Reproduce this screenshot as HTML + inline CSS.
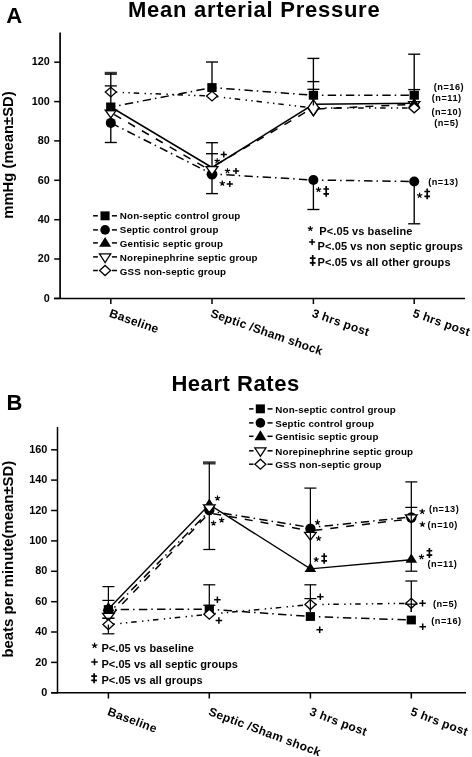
<!DOCTYPE html>
<html><head><meta charset="utf-8"><style>
html,body{margin:0;padding:0;background:#fff;}
body{width:472px;height:757px;overflow:hidden;}
svg{display:block;will-change:transform;}
text{fill:#000;}
</style></head><body>
<svg width="472" height="757" viewBox="0 0 472 757" font-family='"Liberation Sans", sans-serif' font-weight="bold">
<rect width="472" height="757" fill="#fff"/>
<text x="6.3" y="22.6" font-size="22" text-anchor="start">A</text>
<text x="127.9" y="17.4" font-size="22" text-anchor="start" letter-spacing="0.75">Mean arterial Pressure</text>
<text transform="translate(12.7,218.7) rotate(-90)" font-size="14.8">mmHg (mean±SD)</text>
<line x1="60.1" y1="32.5" x2="60.1" y2="299.1" stroke="#000" stroke-width="1.7" stroke-linecap="butt"/>
<line x1="54.0" y1="298.4" x2="465.0" y2="298.4" stroke="#000" stroke-width="1.5" stroke-linecap="butt"/>
<line x1="54.2" y1="298.4" x2="60.1" y2="298.4" stroke="#000" stroke-width="1.5" stroke-linecap="butt"/>
<text x="49.7" y="301.6" font-size="10.8" text-anchor="end">0</text>
<line x1="54.2" y1="259.0" x2="60.1" y2="259.0" stroke="#000" stroke-width="1.5" stroke-linecap="butt"/>
<text x="49.7" y="262.2" font-size="10.8" text-anchor="end">20</text>
<line x1="54.2" y1="219.7" x2="60.1" y2="219.7" stroke="#000" stroke-width="1.5" stroke-linecap="butt"/>
<text x="49.7" y="222.9" font-size="10.8" text-anchor="end">40</text>
<line x1="54.2" y1="180.3" x2="60.1" y2="180.3" stroke="#000" stroke-width="1.5" stroke-linecap="butt"/>
<text x="49.7" y="183.5" font-size="10.8" text-anchor="end">60</text>
<line x1="54.2" y1="140.9" x2="60.1" y2="140.9" stroke="#000" stroke-width="1.5" stroke-linecap="butt"/>
<text x="49.7" y="144.1" font-size="10.8" text-anchor="end">80</text>
<line x1="54.2" y1="101.6" x2="60.1" y2="101.6" stroke="#000" stroke-width="1.5" stroke-linecap="butt"/>
<text x="49.7" y="104.8" font-size="10.8" text-anchor="end">100</text>
<line x1="54.2" y1="62.2" x2="60.1" y2="62.2" stroke="#000" stroke-width="1.5" stroke-linecap="butt"/>
<text x="49.7" y="65.4" font-size="10.8" text-anchor="end">120</text>
<line x1="110.8" y1="298.4" x2="110.8" y2="304.0" stroke="#000" stroke-width="1.5" stroke-linecap="butt"/>
<line x1="212.0" y1="298.4" x2="212.0" y2="304.0" stroke="#000" stroke-width="1.5" stroke-linecap="butt"/>
<line x1="313.4" y1="298.4" x2="313.4" y2="304.0" stroke="#000" stroke-width="1.5" stroke-linecap="butt"/>
<line x1="414.2" y1="298.4" x2="414.2" y2="304.0" stroke="#000" stroke-width="1.5" stroke-linecap="butt"/>
<text transform="translate(108.6,316.4) rotate(19.3)" font-size="12" letter-spacing="0.25">Baseline</text>
<text transform="translate(209.8,316.4) rotate(19.3)" font-size="12" letter-spacing="0.25">Septic /Sham shock</text>
<text transform="translate(311.2,316.4) rotate(19.3)" font-size="12" letter-spacing="0.25">3 hrs post</text>
<text transform="translate(412.0,316.4) rotate(19.3)" font-size="12" letter-spacing="0.25">5 hrs post</text>
<line x1="104.7" y1="73.4" x2="116.9" y2="73.4" stroke="#333" stroke-width="3.2"/>
<line x1="110.8" y1="73.0" x2="110.8" y2="142.5" stroke="#000" stroke-width="1.35" stroke-linecap="butt"/>
<line x1="104.8" y1="85.9" x2="116.8" y2="85.9" stroke="#000" stroke-width="1.35" stroke-linecap="butt"/>
<line x1="104.8" y1="142.5" x2="116.8" y2="142.5" stroke="#000" stroke-width="1.35" stroke-linecap="butt"/>
<line x1="212.0" y1="62.0" x2="212.0" y2="100.0" stroke="#000" stroke-width="1.35" stroke-linecap="butt"/>
<line x1="206.0" y1="62.0" x2="218.0" y2="62.0" stroke="#000" stroke-width="1.35" stroke-linecap="butt"/>
<line x1="212.0" y1="142.7" x2="212.0" y2="193.6" stroke="#000" stroke-width="1.35" stroke-linecap="butt"/>
<line x1="206.0" y1="142.7" x2="218.0" y2="142.7" stroke="#000" stroke-width="1.35" stroke-linecap="butt"/>
<line x1="206.0" y1="153.7" x2="218.0" y2="153.7" stroke="#000" stroke-width="1.35" stroke-linecap="butt"/>
<line x1="206.0" y1="193.6" x2="218.0" y2="193.6" stroke="#000" stroke-width="1.35" stroke-linecap="butt"/>
<line x1="313.4" y1="58.4" x2="313.4" y2="100.0" stroke="#000" stroke-width="1.35" stroke-linecap="butt"/>
<line x1="307.4" y1="58.4" x2="319.4" y2="58.4" stroke="#000" stroke-width="1.35" stroke-linecap="butt"/>
<line x1="307.4" y1="81.6" x2="319.4" y2="81.6" stroke="#000" stroke-width="1.35" stroke-linecap="butt"/>
<line x1="307.4" y1="89.3" x2="319.4" y2="89.3" stroke="#000" stroke-width="1.35" stroke-linecap="butt"/>
<line x1="313.4" y1="180.0" x2="313.4" y2="209.5" stroke="#000" stroke-width="1.35" stroke-linecap="butt"/>
<line x1="307.4" y1="209.5" x2="319.4" y2="209.5" stroke="#000" stroke-width="1.35" stroke-linecap="butt"/>
<line x1="414.2" y1="54.2" x2="414.2" y2="100.0" stroke="#000" stroke-width="1.35" stroke-linecap="butt"/>
<line x1="408.2" y1="54.2" x2="420.2" y2="54.2" stroke="#000" stroke-width="1.35" stroke-linecap="butt"/>
<line x1="408.2" y1="89.6" x2="420.2" y2="89.6" stroke="#000" stroke-width="1.35" stroke-linecap="butt"/>
<line x1="414.2" y1="181.5" x2="414.2" y2="223.8" stroke="#000" stroke-width="1.35" stroke-linecap="butt"/>
<line x1="408.2" y1="223.8" x2="420.2" y2="223.8" stroke="#000" stroke-width="1.35" stroke-linecap="butt"/>
<line x1="110.8" y1="92.1" x2="212.0" y2="96.1" stroke="#000" stroke-width="1.5" stroke-dasharray="5.5 5.4 1.4 4.3 1.4 3.9" stroke-dashoffset="-1.0"/>
<line x1="212.0" y1="96.1" x2="313.4" y2="108.0" stroke="#000" stroke-width="1.5" stroke-dasharray="5.5 5.4 1.4 4.3 1.4 3.9" stroke-dashoffset="-1.0"/>
<line x1="313.4" y1="108.0" x2="414.2" y2="108.0" stroke="#000" stroke-width="1.5" stroke-dasharray="5.5 5.4 1.4 4.3 1.4 3.9" stroke-dashoffset="-1.0"/>
<line x1="110.8" y1="107.0" x2="212.0" y2="87.6" stroke="#000" stroke-width="1.5" stroke-dasharray="8.4 4 1.5 4.3" stroke-dashoffset="3.9"/>
<line x1="212.0" y1="87.6" x2="313.4" y2="95.3" stroke="#000" stroke-width="1.5" stroke-dasharray="8.4 4 1.5 4.3" stroke-dashoffset="3.9"/>
<line x1="313.4" y1="95.3" x2="414.2" y2="95.2" stroke="#000" stroke-width="1.5" stroke-dasharray="8.4 4 1.5 4.3" stroke-dashoffset="3.9"/>
<line x1="110.8" y1="122.9" x2="212.0" y2="174.0" stroke="#000" stroke-width="1.5" stroke-dasharray="8.4 4 1.5 4.3" stroke-dashoffset="-0.4"/>
<line x1="212.0" y1="174.0" x2="313.4" y2="180.0" stroke="#000" stroke-width="1.5" stroke-dasharray="8.4 4 1.5 4.3" stroke-dashoffset="3.9"/>
<line x1="313.4" y1="180.0" x2="414.2" y2="181.5" stroke="#000" stroke-width="1.5" stroke-dasharray="8.4 4 1.5 4.3" stroke-dashoffset="3.9"/>
<line x1="110.8" y1="112.7" x2="212.0" y2="171.3" stroke="#000" stroke-width="1.5" stroke-dasharray="8 8" stroke-dashoffset="-4.0"/>
<line x1="212.0" y1="167.2" x2="313.4" y2="107.6" stroke="#000" stroke-width="1.5" stroke-dasharray="8 8" stroke-dashoffset="-4.0"/>
<line x1="313.4" y1="109.2" x2="414.2" y2="104.2" stroke="#000" stroke-width="1.5" stroke-dasharray="8 8" stroke-dashoffset="-4.0"/>
<polyline points="110.8,107.0 212.0,167.5 313.4,104.3 414.2,103.3" fill="none" stroke="#000" stroke-width="1.5" stroke-linejoin="miter"/>
<circle cx="110.8" cy="122.9" r="5" fill="#000"/>
<circle cx="212.0" cy="174.2" r="5.4" fill="#000"/>
<circle cx="313.4" cy="180.0" r="5" fill="#000"/>
<circle cx="414.2" cy="181.5" r="5" fill="#000"/>
<polygon points="105.2,110.1 116.4,110.1 110.8,117.9" fill="#fff" stroke="#000" stroke-width="1.3" stroke-linejoin="miter"/>
<polygon points="206.1,166.7 217.9,166.7 212.0,174.9" fill="#fff" stroke="#000" stroke-width="1.3" stroke-linejoin="miter"/>
<polygon points="307.8,108.0 319.0,108.0 313.4,115.8" fill="#fff" stroke="#000" stroke-width="1.3" stroke-linejoin="miter"/>
<polygon points="408.6,101.6 419.8,101.6 414.2,109.4" fill="#fff" stroke="#000" stroke-width="1.3" stroke-linejoin="miter"/>
<polygon points="408.4,106.9 420.0,106.9 414.2,97.7" fill="#000"/>
<rect x="106.1" y="102.5" width="9.3" height="8.9" fill="#000"/>
<rect x="207.3" y="83.1" width="9.3" height="8.9" fill="#000"/>
<rect x="308.8" y="90.8" width="9.3" height="8.9" fill="#000"/>
<rect x="409.6" y="90.8" width="9.3" height="8.9" fill="#000"/>
<polygon points="105.3,92.1 110.8,87.3 116.3,92.1 110.8,96.9" fill="#fff" stroke="#000" stroke-width="1.3"/>
<polygon points="206.5,96.1 212.0,91.3 217.5,96.1 212.0,100.9" fill="#fff" stroke="#000" stroke-width="1.3"/>
<polygon points="308.1,107.6 313.4,99.7 318.7,107.6 313.4,115.5" fill="#fff" stroke="#000" stroke-width="1.3"/>
<polygon points="408.7,108.0 414.2,103.2 419.7,108.0 414.2,112.8" fill="#fff" stroke="#000" stroke-width="1.3"/>
<line x1="110.8" y1="87.3" x2="110.8" y2="97.0" stroke="#000" stroke-width="1.35" stroke-linecap="butt"/>
<line x1="313.4" y1="99.5" x2="313.4" y2="105.5" stroke="#000" stroke-width="1.35" stroke-linecap="butt"/>
<path d="M220.70,154.50H226.90M223.80,151.40V157.60" stroke="#000" stroke-width="1.5" fill="none"/>
<path d="M217.20,161.00L217.20,158.21M217.20,161.00L219.85,160.14M217.20,161.00L218.84,163.25M217.20,161.00L215.56,163.25M217.20,161.00L214.55,160.14" stroke="#000" stroke-width="1.2" stroke-linecap="butt" fill="none"/>
<path d="M227.50,171.00L227.50,168.21M227.50,171.00L230.15,170.14M227.50,171.00L229.14,173.25M227.50,171.00L225.86,173.25M227.50,171.00L224.85,170.14" stroke="#000" stroke-width="1.2" stroke-linecap="butt" fill="none"/>
<path d="M232.90,171.00H239.10M236.00,167.90V174.10" stroke="#000" stroke-width="1.5" fill="none"/>
<path d="M222.30,183.40L222.30,180.61M222.30,183.40L224.95,182.54M222.30,183.40L223.94,185.65M222.30,183.40L220.66,185.65M222.30,183.40L219.65,182.54" stroke="#000" stroke-width="1.2" stroke-linecap="butt" fill="none"/>
<path d="M226.70,184.00H232.90M229.80,180.90V187.10" stroke="#000" stroke-width="1.5" fill="none"/>
<path d="M318.50,189.70L318.50,186.91M318.50,189.70L321.15,188.84M318.50,189.70L320.14,191.95M318.50,189.70L316.86,191.95M318.50,189.70L315.85,188.84" stroke="#000" stroke-width="1.2" stroke-linecap="butt" fill="none"/>
<path d="M326.20,186.00V196.80M323.35,189.02H329.05M323.35,193.78H329.05" stroke="#000" stroke-width="1.7" fill="none"/>
<path d="M419.60,195.50L419.60,192.71M419.60,195.50L422.25,194.64M419.60,195.50L421.24,197.75M419.60,195.50L417.96,197.75M419.60,195.50L416.95,194.64" stroke="#000" stroke-width="1.2" stroke-linecap="butt" fill="none"/>
<path d="M427.20,188.50V199.30M424.35,191.52H430.05M424.35,196.28H430.05" stroke="#000" stroke-width="1.7" fill="none"/>
<text x="433.8" y="89.6" font-size="9.2" text-anchor="start" letter-spacing="0.5">(n=16)</text>
<text x="431.8" y="101.2" font-size="9.2" text-anchor="start" letter-spacing="0.5">(n=11)</text>
<text x="431.4" y="114.6" font-size="9.2" text-anchor="start" letter-spacing="0.5">(n=10)</text>
<text x="434.2" y="126.1" font-size="9.2" text-anchor="start" letter-spacing="0.5">(n=5)</text>
<text x="428.2" y="185.3" font-size="9.2" text-anchor="start" letter-spacing="0.5">(n=13)</text>
<line x1="93.1" y1="215.8" x2="97.9" y2="215.8" stroke="#000" stroke-width="1.5" stroke-linecap="butt"/>
<line x1="111.9" y1="215.8" x2="117.0" y2="215.8" stroke="#000" stroke-width="1.5" stroke-linecap="butt"/>
<rect x="100.5" y="211.4" width="9.1" height="8.9" fill="#000"/>
<text x="119.8" y="219.0" font-size="9.8" text-anchor="start" letter-spacing="0.15">Non-septic control group</text>
<line x1="93.1" y1="229.9" x2="97.9" y2="229.9" stroke="#000" stroke-width="1.5" stroke-linecap="butt"/>
<line x1="111.9" y1="229.9" x2="117.0" y2="229.9" stroke="#000" stroke-width="1.5" stroke-linecap="butt"/>
<circle cx="105.1" cy="229.9" r="4.8" fill="#000"/>
<text x="119.8" y="233.2" font-size="9.8" text-anchor="start" letter-spacing="0.15">Septic control group</text>
<line x1="93.1" y1="242.9" x2="97.9" y2="242.9" stroke="#000" stroke-width="1.5" stroke-linecap="butt"/>
<line x1="111.9" y1="242.9" x2="117.0" y2="242.9" stroke="#000" stroke-width="1.5" stroke-linecap="butt"/>
<polygon points="99.1,246.8 111.1,246.8 105.1,236.9" fill="#000"/>
<text x="119.8" y="246.7" font-size="9.8" text-anchor="start" letter-spacing="0.15">Gentisic septic group</text>
<line x1="93.1" y1="256.9" x2="97.9" y2="256.9" stroke="#000" stroke-width="1.5" stroke-linecap="butt"/>
<line x1="111.9" y1="256.9" x2="117.0" y2="256.9" stroke="#000" stroke-width="1.5" stroke-linecap="butt"/>
<polygon points="99.5,253.9 110.7,253.9 105.1,262.5" fill="#fff" stroke="#000" stroke-width="1.3" stroke-linejoin="miter"/>
<text x="119.8" y="260.9" font-size="9.8" text-anchor="start" letter-spacing="0.15">Norepinephrine septic group</text>
<line x1="93.1" y1="270.5" x2="97.9" y2="270.5" stroke="#000" stroke-width="1.5" stroke-linecap="butt"/>
<line x1="111.9" y1="270.5" x2="117.0" y2="270.5" stroke="#000" stroke-width="1.5" stroke-linecap="butt"/>
<polygon points="99.6,270.5 105.1,265.5 110.6,270.5 105.1,275.5" fill="#fff" stroke="#000" stroke-width="1.3"/>
<text x="119.8" y="274.6" font-size="9.8" text-anchor="start" letter-spacing="0.15">GSS non-septic group</text>
<path d="M310.30,228.70L310.30,226.02M310.30,228.70L312.85,227.87M310.30,228.70L311.88,230.87M310.30,228.70L308.72,230.87M310.30,228.70L307.75,227.87" stroke="#000" stroke-width="1.2" stroke-linecap="butt" fill="none"/>
<text x="319.3" y="235.4" font-size="11" text-anchor="start" letter-spacing="0.1">P&lt;.05 vs baseline</text>
<path d="M309.10,242.05H315.10M312.10,239.05V245.05" stroke="#000" stroke-width="1.5" fill="none"/>
<text x="317.6" y="249.8" font-size="11" text-anchor="start" letter-spacing="0.1">P&lt;.05 vs non septic groups</text>
<path d="M312.70,255.00V265.90M309.85,258.05H315.55M309.85,262.85H315.55" stroke="#000" stroke-width="1.7" fill="none"/>
<text x="317.6" y="265.9" font-size="11" text-anchor="start" letter-spacing="0.1">P&lt;.05 vs all other groups</text>
<text x="6.5" y="410.0" font-size="22" text-anchor="start">B</text>
<text x="171.4" y="391.0" font-size="22" text-anchor="start" letter-spacing="0.55">Heart Rates</text>
<text transform="translate(12.8,657.6) rotate(-90)" font-size="14.9">beats per minute(mean±SD)</text>
<line x1="57.5" y1="427.0" x2="57.5" y2="693.5" stroke="#000" stroke-width="1.5" stroke-linecap="butt"/>
<line x1="51.1" y1="692.8" x2="466.0" y2="692.8" stroke="#000" stroke-width="1.6" stroke-linecap="butt"/>
<line x1="51.1" y1="692.8" x2="57.5" y2="692.8" stroke="#000" stroke-width="1.5" stroke-linecap="butt"/>
<text x="47.3" y="695.9" font-size="10.9" text-anchor="end">0</text>
<line x1="51.1" y1="662.4" x2="57.5" y2="662.4" stroke="#000" stroke-width="1.5" stroke-linecap="butt"/>
<text x="47.3" y="665.5" font-size="10.9" text-anchor="end">20</text>
<line x1="51.1" y1="632.0" x2="57.5" y2="632.0" stroke="#000" stroke-width="1.5" stroke-linecap="butt"/>
<text x="47.3" y="635.1" font-size="10.9" text-anchor="end">40</text>
<line x1="51.1" y1="601.7" x2="57.5" y2="601.7" stroke="#000" stroke-width="1.5" stroke-linecap="butt"/>
<text x="47.3" y="604.8" font-size="10.9" text-anchor="end">60</text>
<line x1="51.1" y1="571.3" x2="57.5" y2="571.3" stroke="#000" stroke-width="1.5" stroke-linecap="butt"/>
<text x="47.3" y="574.4" font-size="10.9" text-anchor="end">80</text>
<line x1="51.1" y1="540.9" x2="57.5" y2="540.9" stroke="#000" stroke-width="1.5" stroke-linecap="butt"/>
<text x="47.3" y="544.0" font-size="10.9" text-anchor="end">100</text>
<line x1="51.1" y1="510.5" x2="57.5" y2="510.5" stroke="#000" stroke-width="1.5" stroke-linecap="butt"/>
<text x="47.3" y="513.6" font-size="10.9" text-anchor="end">120</text>
<line x1="51.1" y1="480.1" x2="57.5" y2="480.1" stroke="#000" stroke-width="1.5" stroke-linecap="butt"/>
<text x="47.3" y="483.2" font-size="10.9" text-anchor="end">140</text>
<line x1="51.1" y1="449.8" x2="57.5" y2="449.8" stroke="#000" stroke-width="1.5" stroke-linecap="butt"/>
<text x="47.3" y="452.9" font-size="10.9" text-anchor="end">160</text>
<line x1="108.4" y1="692.8" x2="108.4" y2="698.5" stroke="#000" stroke-width="1.5" stroke-linecap="butt"/>
<line x1="209.3" y1="692.8" x2="209.3" y2="698.5" stroke="#000" stroke-width="1.5" stroke-linecap="butt"/>
<line x1="310.4" y1="692.8" x2="310.4" y2="698.5" stroke="#000" stroke-width="1.5" stroke-linecap="butt"/>
<line x1="411.3" y1="692.8" x2="411.3" y2="698.5" stroke="#000" stroke-width="1.5" stroke-linecap="butt"/>
<text transform="translate(106.8,714.8) rotate(20.5)" font-size="12" letter-spacing="0.3">Baseline</text>
<text transform="translate(207.7,714.8) rotate(20.5)" font-size="12" letter-spacing="0.3">Septic /Sham shock</text>
<text transform="translate(308.8,714.8) rotate(20.5)" font-size="12" letter-spacing="0.3">3 hrs post</text>
<text transform="translate(409.7,714.8) rotate(20.5)" font-size="12" letter-spacing="0.3">5 hrs post</text>
<line x1="108.4" y1="586.6" x2="108.4" y2="633.8" stroke="#000" stroke-width="1.25" stroke-linecap="butt"/>
<line x1="102.4" y1="586.6" x2="114.4" y2="586.6" stroke="#000" stroke-width="1.25" stroke-linecap="butt"/>
<line x1="102.4" y1="600.4" x2="114.4" y2="600.4" stroke="#000" stroke-width="1.25" stroke-linecap="butt"/>
<line x1="102.4" y1="618.2" x2="114.4" y2="618.2" stroke="#000" stroke-width="1.25" stroke-linecap="butt"/>
<line x1="102.4" y1="633.8" x2="114.4" y2="633.8" stroke="#000" stroke-width="1.25" stroke-linecap="butt"/>
<line x1="203.0" y1="462.9" x2="215.6" y2="462.9" stroke="#383838" stroke-width="3.2"/>
<line x1="209.3" y1="462.8" x2="209.3" y2="549.5" stroke="#000" stroke-width="1.25" stroke-linecap="butt"/>
<line x1="203.3" y1="549.5" x2="215.3" y2="549.5" stroke="#000" stroke-width="1.25" stroke-linecap="butt"/>
<line x1="209.3" y1="584.8" x2="209.3" y2="608.0" stroke="#000" stroke-width="1.25" stroke-linecap="butt"/>
<line x1="203.3" y1="584.8" x2="215.3" y2="584.8" stroke="#000" stroke-width="1.25" stroke-linecap="butt"/>
<line x1="203.3" y1="605.3" x2="215.3" y2="605.3" stroke="#000" stroke-width="1.25" stroke-linecap="butt"/>
<line x1="310.4" y1="488.1" x2="310.4" y2="567.0" stroke="#000" stroke-width="1.25" stroke-linecap="butt"/>
<line x1="304.4" y1="488.1" x2="316.4" y2="488.1" stroke="#000" stroke-width="1.25" stroke-linecap="butt"/>
<line x1="310.4" y1="584.8" x2="310.4" y2="612.0" stroke="#000" stroke-width="1.25" stroke-linecap="butt"/>
<line x1="304.4" y1="584.8" x2="316.4" y2="584.8" stroke="#000" stroke-width="1.25" stroke-linecap="butt"/>
<line x1="304.4" y1="598.6" x2="316.4" y2="598.6" stroke="#000" stroke-width="1.25" stroke-linecap="butt"/>
<line x1="411.3" y1="481.9" x2="411.3" y2="571.0" stroke="#000" stroke-width="1.25" stroke-linecap="butt"/>
<line x1="405.3" y1="481.9" x2="417.3" y2="481.9" stroke="#000" stroke-width="1.25" stroke-linecap="butt"/>
<line x1="405.3" y1="507.4" x2="417.3" y2="507.4" stroke="#000" stroke-width="1.25" stroke-linecap="butt"/>
<line x1="405.3" y1="571.2" x2="417.3" y2="571.2" stroke="#000" stroke-width="1.25" stroke-linecap="butt"/>
<line x1="411.3" y1="581.0" x2="411.3" y2="612.0" stroke="#000" stroke-width="1.25" stroke-linecap="butt"/>
<line x1="405.3" y1="581.0" x2="417.3" y2="581.0" stroke="#000" stroke-width="1.25" stroke-linecap="butt"/>
<line x1="108.4" y1="624.6" x2="209.3" y2="614.2" stroke="#000" stroke-width="1.5" stroke-dasharray="5.5 5.4 1.4 4.3 1.4 3.9" stroke-dashoffset="-1.0"/>
<line x1="209.3" y1="614.2" x2="310.4" y2="604.6" stroke="#000" stroke-width="1.5" stroke-dasharray="5.5 5.4 1.4 4.3 1.4 3.9" stroke-dashoffset="-1.0"/>
<line x1="310.4" y1="604.6" x2="411.3" y2="603.3" stroke="#000" stroke-width="1.5" stroke-dasharray="5.5 5.4 1.4 4.3 1.4 3.9" stroke-dashoffset="-1.0"/>
<line x1="108.4" y1="609.5" x2="209.3" y2="609.2" stroke="#000" stroke-width="1.5" stroke-dasharray="8.4 4 1.5 4.3" stroke-dashoffset="5.9"/>
<line x1="209.3" y1="609.2" x2="310.4" y2="616.5" stroke="#000" stroke-width="1.5" stroke-dasharray="8.4 4 1.5 4.3" stroke-dashoffset="3.9"/>
<line x1="310.4" y1="616.5" x2="411.3" y2="620.0" stroke="#000" stroke-width="1.5" stroke-dasharray="8.4 4 1.5 4.3" stroke-dashoffset="3.9"/>
<line x1="108.4" y1="613.5" x2="209.3" y2="511.0" stroke="#000" stroke-width="1.5" stroke-dasharray="8.4 4 1.5 4.3" stroke-dashoffset="3.9"/>
<line x1="209.3" y1="511.0" x2="310.4" y2="527.5" stroke="#000" stroke-width="1.5" stroke-dasharray="8.4 4 1.5 4.3" stroke-dashoffset="3.9"/>
<line x1="310.4" y1="527.5" x2="411.3" y2="517.0" stroke="#000" stroke-width="1.5" stroke-dasharray="8.4 4 1.5 4.3" stroke-dashoffset="3.9"/>
<line x1="108.4" y1="618.5" x2="209.3" y2="513.0" stroke="#000" stroke-width="1.5" stroke-dasharray="8 8" stroke-dashoffset="-4.0"/>
<line x1="209.3" y1="513.0" x2="310.4" y2="530.8" stroke="#000" stroke-width="1.5" stroke-dasharray="8 8" stroke-dashoffset="-4.0"/>
<line x1="310.4" y1="530.8" x2="411.3" y2="518.8" stroke="#000" stroke-width="1.5" stroke-dasharray="8 8" stroke-dashoffset="-4.0"/>
<polyline points="108.4,609.0 209.3,504.6 310.4,568.9 411.3,559.7" fill="none" stroke="#000" stroke-width="1.4" stroke-linejoin="miter"/>
<circle cx="108.4" cy="610.5" r="5.2" fill="#000"/>
<circle cx="209.3" cy="510.0" r="5.2" fill="#000"/>
<circle cx="310.4" cy="528.8" r="5.2" fill="#000"/>
<circle cx="411.3" cy="517.5" r="5.2" fill="#000"/>
<polygon points="102.6,611.1 114.2,611.1 108.4,601.9" fill="#000"/>
<polygon points="203.5,507.7 215.1,507.7 209.3,498.5" fill="#000"/>
<polygon points="304.6,572.0 316.2,572.0 310.4,562.8" fill="#000"/>
<polygon points="405.5,562.8 417.1,562.8 411.3,553.6" fill="#000"/>
<polygon points="102.6,613.4 114.2,613.4 108.4,621.2" fill="#fff" stroke="#000" stroke-width="1.3" stroke-linejoin="miter"/>
<polygon points="203.5,504.8 215.1,504.8 209.3,512.6" fill="#fff" stroke="#000" stroke-width="1.3" stroke-linejoin="miter"/>
<polygon points="304.6,532.3 316.2,532.3 310.4,540.1" fill="#fff" stroke="#000" stroke-width="1.3" stroke-linejoin="miter"/>
<polygon points="405.5,514.8 417.1,514.8 411.3,522.6" fill="#fff" stroke="#000" stroke-width="1.3" stroke-linejoin="miter"/>
<rect x="103.8" y="605.1" width="9.2" height="8.8" fill="#000"/>
<rect x="204.7" y="604.8" width="9.2" height="8.8" fill="#000"/>
<rect x="305.8" y="612.1" width="9.2" height="8.8" fill="#000"/>
<rect x="406.7" y="615.6" width="9.2" height="8.8" fill="#000"/>
<polygon points="102.9,624.6 108.4,619.6 113.9,624.6 108.4,629.6" fill="#fff" stroke="#000" stroke-width="1.3"/>
<polygon points="203.8,614.2 209.3,609.2 214.8,614.2 209.3,619.2" fill="#fff" stroke="#000" stroke-width="1.3"/>
<polygon points="304.9,604.6 310.4,599.6 315.9,604.6 310.4,609.6" fill="#fff" stroke="#000" stroke-width="1.3"/>
<polygon points="405.8,603.3 411.3,598.3 416.8,603.3 411.3,608.3" fill="#fff" stroke="#000" stroke-width="1.3"/>
<line x1="310.4" y1="598.6" x2="310.4" y2="611.0" stroke="#000" stroke-width="1.25" stroke-linecap="butt"/>
<line x1="411.3" y1="598.0" x2="411.3" y2="612.0" stroke="#000" stroke-width="1.25" stroke-linecap="butt"/>
<line x1="405.1" y1="604.2" x2="417.5" y2="604.2" stroke="#000" stroke-width="1.25" stroke-linecap="butt"/>
<line x1="108.4" y1="624.6" x2="108.4" y2="630.5" stroke="#000" stroke-width="1.25" stroke-linecap="butt"/>
<line x1="411.3" y1="514.0" x2="411.3" y2="523.0" stroke="#000" stroke-width="1.2" stroke-linecap="butt"/>
<line x1="310.4" y1="532.0" x2="310.4" y2="540.0" stroke="#000" stroke-width="1.2" stroke-linecap="butt"/>
<line x1="102.4" y1="618.3" x2="114.4" y2="618.3" stroke="#000" stroke-width="1.25" stroke-linecap="butt"/>
<path d="M217.50,498.20L217.50,495.47M217.50,498.20L220.10,497.36M217.50,498.20L219.11,500.41M217.50,498.20L215.89,500.41M217.50,498.20L214.90,497.36" stroke="#000" stroke-width="1.2" stroke-linecap="butt" fill="none"/>
<path d="M213.50,523.20L213.50,520.47M213.50,523.20L216.10,522.36M213.50,523.20L215.11,525.41M213.50,523.20L211.89,525.41M213.50,523.20L210.90,522.36" stroke="#000" stroke-width="1.2" stroke-linecap="butt" fill="none"/>
<path d="M221.70,520.20L221.70,517.47M221.70,520.20L224.30,519.36M221.70,520.20L223.31,522.41M221.70,520.20L220.09,522.41M221.70,520.20L219.10,519.36" stroke="#000" stroke-width="1.2" stroke-linecap="butt" fill="none"/>
<path d="M317.50,522.40L317.50,519.61M317.50,522.40L320.15,521.54M317.50,522.40L319.14,524.65M317.50,522.40L315.86,524.65M317.50,522.40L314.85,521.54" stroke="#000" stroke-width="1.2" stroke-linecap="butt" fill="none"/>
<path d="M318.60,538.50L318.60,535.71M318.60,538.50L321.25,537.64M318.60,538.50L320.24,540.75M318.60,538.50L316.96,540.75M318.60,538.50L315.95,537.64" stroke="#000" stroke-width="1.2" stroke-linecap="butt" fill="none"/>
<path d="M316.20,559.60L316.20,556.97M316.20,559.60L318.70,558.79M316.20,559.60L317.75,561.73M316.20,559.60L314.65,561.73M316.20,559.60L313.70,558.79" stroke="#000" stroke-width="1.2" stroke-linecap="butt" fill="none"/>
<path d="M324.20,553.30V563.80M321.35,556.24H327.05M321.35,560.86H327.05" stroke="#000" stroke-width="1.7" fill="none"/>
<path d="M422.20,511.50L422.20,508.66M422.20,511.50L424.90,510.62M422.20,511.50L423.87,513.80M422.20,511.50L420.53,513.80M422.20,511.50L419.50,510.62" stroke="#000" stroke-width="1.2" stroke-linecap="butt" fill="none"/>
<path d="M422.40,524.40L422.40,521.56M422.40,524.40L425.10,523.52M422.40,524.40L424.07,526.70M422.40,524.40L420.73,526.70M422.40,524.40L419.70,523.52" stroke="#000" stroke-width="1.2" stroke-linecap="butt" fill="none"/>
<path d="M421.50,557.00L421.50,554.27M421.50,557.00L424.10,556.16M421.50,557.00L423.11,559.21M421.50,557.00L419.89,559.21M421.50,557.00L418.90,556.16" stroke="#000" stroke-width="1.2" stroke-linecap="butt" fill="none"/>
<path d="M429.40,547.90V558.00M426.55,550.73H432.25M426.55,555.17H432.25" stroke="#000" stroke-width="1.7" fill="none"/>
<text x="428.9" y="511.6" font-size="9.2" text-anchor="start" letter-spacing="0.5">(n=13)</text>
<text x="427.5" y="527.8" font-size="9.2" text-anchor="start" letter-spacing="0.5">(n=10)</text>
<text x="427.5" y="567.1" font-size="9.2" text-anchor="start" letter-spacing="0.5">(n=11)</text>
<text x="432.9" y="606.5" font-size="9.2" text-anchor="start" letter-spacing="0.5">(n=5)</text>
<text x="431.3" y="623.8" font-size="9.2" text-anchor="start" letter-spacing="0.5">(n=16)</text>
<path d="M214.15,599.70H220.65M217.40,596.45V602.95" stroke="#000" stroke-width="1.5" fill="none"/>
<path d="M215.65,620.40H222.15M218.90,617.15V623.65" stroke="#000" stroke-width="1.5" fill="none"/>
<path d="M317.05,596.80H323.55M320.30,593.55V600.05" stroke="#000" stroke-width="1.5" fill="none"/>
<path d="M316.45,629.70H322.95M319.70,626.45V632.95" stroke="#000" stroke-width="1.5" fill="none"/>
<path d="M419.25,603.30H425.75M422.50,600.05V606.55" stroke="#000" stroke-width="1.5" fill="none"/>
<path d="M419.45,626.80H425.95M422.70,623.55V630.05" stroke="#000" stroke-width="1.5" fill="none"/>
<line x1="249.1" y1="408.9" x2="253.5" y2="408.9" stroke="#000" stroke-width="1.5" stroke-linecap="butt"/>
<line x1="267.5" y1="408.9" x2="272.6" y2="408.9" stroke="#000" stroke-width="1.5" stroke-linecap="butt"/>
<rect x="255.8" y="404.4" width="9.1" height="8.9" fill="#000"/>
<text x="275.3" y="412.7" font-size="9.8" text-anchor="start" letter-spacing="0.15">Non-septic control group</text>
<line x1="249.1" y1="422.9" x2="253.5" y2="422.9" stroke="#000" stroke-width="1.5" stroke-linecap="butt"/>
<line x1="267.5" y1="422.9" x2="272.6" y2="422.9" stroke="#000" stroke-width="1.5" stroke-linecap="butt"/>
<circle cx="260.4" cy="422.9" r="4.8" fill="#000"/>
<text x="275.3" y="426.7" font-size="9.8" text-anchor="start" letter-spacing="0.15">Septic control group</text>
<line x1="249.1" y1="436.3" x2="253.5" y2="436.3" stroke="#000" stroke-width="1.5" stroke-linecap="butt"/>
<line x1="267.5" y1="436.3" x2="272.6" y2="436.3" stroke="#000" stroke-width="1.5" stroke-linecap="butt"/>
<polygon points="254.4,440.2 266.4,440.2 260.4,430.3" fill="#000"/>
<text x="275.3" y="440.3" font-size="9.8" text-anchor="start" letter-spacing="0.15">Gentisic septic group</text>
<line x1="249.1" y1="450.8" x2="253.5" y2="450.8" stroke="#000" stroke-width="1.5" stroke-linecap="butt"/>
<line x1="267.5" y1="450.8" x2="272.6" y2="450.8" stroke="#000" stroke-width="1.5" stroke-linecap="butt"/>
<polygon points="254.8,447.8 266.0,447.8 260.4,456.4" fill="#fff" stroke="#000" stroke-width="1.3" stroke-linejoin="miter"/>
<text x="275.3" y="454.5" font-size="9.8" text-anchor="start" letter-spacing="0.15">Norepinephrine septic group</text>
<line x1="249.1" y1="464.2" x2="253.5" y2="464.2" stroke="#000" stroke-width="1.5" stroke-linecap="butt"/>
<line x1="267.5" y1="464.2" x2="272.6" y2="464.2" stroke="#000" stroke-width="1.5" stroke-linecap="butt"/>
<polygon points="254.9,464.2 260.4,459.2 265.9,464.2 260.4,469.2" fill="#fff" stroke="#000" stroke-width="1.3"/>
<text x="275.3" y="468.0" font-size="9.8" text-anchor="start" letter-spacing="0.15">GSS non-septic group</text>
<path d="M94.60,645.60L94.60,642.71M94.60,645.60L97.35,644.71M94.60,645.60L96.30,647.94M94.60,645.60L92.90,647.94M94.60,645.60L91.85,644.71" stroke="#000" stroke-width="1.2" stroke-linecap="butt" fill="none"/>
<text x="101.4" y="651.6" font-size="11" text-anchor="start" letter-spacing="0.07">P&lt;.05 vs baseline</text>
<path d="M91.20,662.00H97.80M94.50,658.70V665.30" stroke="#000" stroke-width="1.5" fill="none"/>
<text x="101.4" y="668.1" font-size="11" text-anchor="start" letter-spacing="0.07">P&lt;.05 vs all septic groups</text>
<path d="M94.10,673.20V683.30M91.25,676.03H96.95M91.25,680.47H96.95" stroke="#000" stroke-width="1.7" fill="none"/>
<text x="101.4" y="684.2" font-size="11" text-anchor="start" letter-spacing="0.07">P&lt;.05 vs all groups</text>
</svg>
</body></html>
